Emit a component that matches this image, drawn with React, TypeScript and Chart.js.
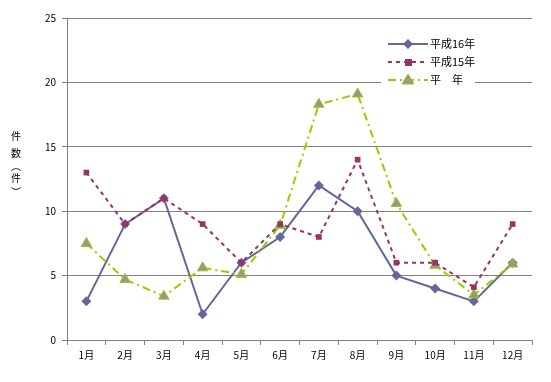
import React, { useEffect, useRef } from "react";
import { Chart, registerables } from "chart.js";

Chart.register(...registerables);

const months = ["1月", "2月", "3月", "4月", "5月", "6月", "7月", "8月", "9月", "10月", "11月", "12月"];
const h16 = [3, 9, 11, 2, 6, 8, 12, 10, 5, 4, 3, 6];
const h15 = [13, 9, 11, 9, 6, 9, 8, 14, 6, 6, 4.1, 9];
const heinen = [7.5, 4.7, 3.4, 5.6, 5.1, 8.9, 18.3, 19.1, 10.6, 5.8, 3.5, 5.9];
const seriesNames = ["平成16年", "平成15年", "平　年"];
const yTitleChars = ["件", "数", "︵", "件", "︶"];

const FONT = "'Noto Sans CJK JP', 'DejaVu Sans', sans-serif";

const BLUE = "#666699";
const RED = "#993366";
const GREEN = "#99CC00";
const GRAY = "#969696";

const customPlugin = {
  id: "custom",
  afterDraw(chart: any) {
    const ctx = chart.ctx as CanvasRenderingContext2D;
    ctx.save();
    // y-axis title, vertical
    ctx.fillStyle = "#000";
    ctx.font = `10px ${FONT}`;
    ctx.textAlign = "center";
    ctx.textBaseline = "middle";
    const ys = [136, 153, 166, 178, 192];
    yTitleChars.forEach((c, i) => ctx.fillText(c, 16, ys[i]));

    // legend
    ctx.fillStyle = "#fff";
    ctx.fillRect(381, 34, 94, 56);
    const rows = [44, 62, 80];
    const x0 = 388, x1 = 428, xm = 408;
    // blue
    ctx.strokeStyle = BLUE;
    ctx.lineWidth = 2;
    ctx.setLineDash([]);
    ctx.beginPath(); ctx.moveTo(x0, rows[0]); ctx.lineTo(x1, rows[0]); ctx.stroke();
    ctx.fillStyle = BLUE;
    ctx.beginPath();
    ctx.moveTo(xm, rows[0] - 5); ctx.lineTo(xm + 5, rows[0]); ctx.lineTo(xm, rows[0] + 5); ctx.lineTo(xm - 5, rows[0]);
    ctx.closePath(); ctx.fill();
    // red
    ctx.strokeStyle = RED;
    ctx.setLineDash([4, 4]);
    ctx.beginPath(); ctx.moveTo(x0, rows[1]); ctx.lineTo(x1, rows[1]); ctx.stroke();
    ctx.fillStyle = RED;
    ctx.fillRect(xm - 3, rows[1] - 3, 7, 7);
    // green
    ctx.strokeStyle = GREEN;
    ctx.setLineDash([8, 4, 2, 4]);
    ctx.beginPath(); ctx.moveTo(x0, rows[2]); ctx.lineTo(x1, rows[2]); ctx.stroke();
    ctx.setLineDash([]);
    ctx.fillStyle = GRAY;
    ctx.strokeStyle = GREEN;
    ctx.lineWidth = 1;
    ctx.beginPath();
    ctx.moveTo(xm, rows[2] - 6); ctx.lineTo(xm + 6, rows[2] + 4); ctx.lineTo(xm - 6, rows[2] + 4);
    ctx.closePath(); ctx.fill(); ctx.stroke();

    ctx.fillStyle = "#000";
    ctx.font = `11px ${FONT}`;
    ctx.textAlign = "left";
    seriesNames.forEach((n, i) => ctx.fillText(n, 430, rows[i]));
    ctx.restore();
  },
};

export default function App() {
  const ref = useRef<HTMLCanvasElement | null>(null);
  useEffect(() => {
    if (!ref.current) return;
    const chart = new Chart(ref.current, {
      type: "line",
      data: {
        labels: months,
        datasets: [
          {
            label: seriesNames[1],
            data: h15,
            borderColor: RED,
            backgroundColor: RED,
            borderWidth: 2,
            borderDash: [4, 4],
            pointStyle: "rect",
            pointRadius: 4,
            pointBorderWidth: 0,
            tension: 0,
          },
          {
            label: seriesNames[2],
            data: heinen,
            borderColor: GREEN,
            backgroundColor: GRAY,
            pointBorderColor: GREEN,
            borderWidth: 2,
            borderDash: [8, 4, 2, 4],
            pointStyle: "triangle",
            pointRadius: 6,
            pointBorderWidth: 1,
            tension: 0,
          },
          {
            label: seriesNames[0],
            data: h16,
            borderColor: BLUE,
            backgroundColor: BLUE,
            borderWidth: 2,
            pointStyle: "rectRot",
            pointRadius: 5,
            pointBorderWidth: 0,
            tension: 0,
          },
        ],
      },
      options: {
        animation: false,
        responsive: false,
        maintainAspectRatio: false,
        layout: { padding: { left: 0, right: 19, top: 18, bottom: 0 } },
        plugins: { legend: { display: false }, tooltip: { enabled: false } },
        scales: {
          x: {
            offset: true,
            grid: {
              display: true,
              drawOnChartArea: false,
              drawTicks: true,
              tickLength: 5,
              color: "#808080",
              offset: true,
            },
            border: { color: "#808080", width: 1 },
            ticks: { color: "#000", font: { family: FONT, size: 10 }, padding: 4, maxRotation: 0 },
            afterFit: (s: any) => { s.height = 42; },
          },
          y: {
            min: 0,
            max: 25,
            ticks: { stepSize: 5, color: "#000", font: { family: FONT, size: 10 }, padding: 6 },
            grid: { color: "#808080", tickLength: 5, lineWidth: 1 },
            border: { color: "#808080", width: 1 },
            afterFit: (s: any) => { s.width = 67; },
          },
        },
      },
      plugins: [customPlugin],
    });
    return () => chart.destroy();
  }, []);
  return (
    <div style={{ position: "fixed", left: 0, top: 0, width: 551, height: 382, background: "#fff" }}>
      <canvas ref={ref} width={551} height={382} style={{ display: "block" }} />
    </div>
  );
}
